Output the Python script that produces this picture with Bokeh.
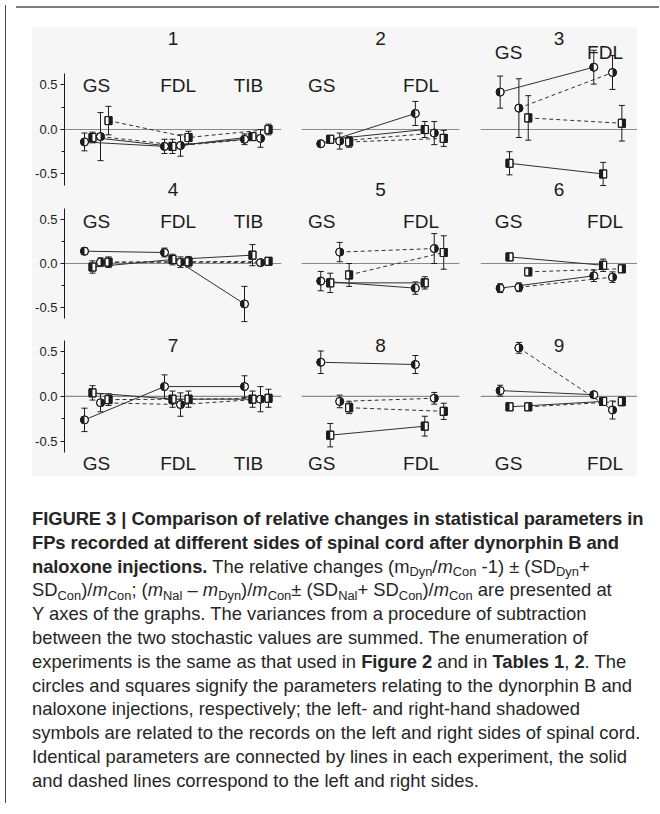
import math
from bokeh.plotting import figure
from bokeh.models import (ColumnDataSource, Whisker, TeeHead, Span, FixedTicker,
                          PrintfTickFormatter, Range1d, Div, Spacer)
from bokeh.layouts import row, column
from bokeh.core.properties import value
from bokeh.embed import file_html
from bokeh.resources import INLINE

# ---------------- data ----------------
SERIES = ["dyn_left", "nal_left", "dyn_right", "nal_right"]
MUSCLES_3 = ["GS", "FDL", "TIB"]
MUSCLES_2 = ["GS", "FDL"]
EXPERIMENTS = ["1", "2", "3", "4", "5", "6", "7", "8", "9"]

exp1_mean = {"dyn_left": [-0.14, -0.19, -0.11], "nal_left": [-0.09, -0.19, -0.08],
             "dyn_right": [-0.08, -0.18, -0.10], "nal_right": [0.10, -0.09, 0.00]}
exp1_sd = {"dyn_left": [0.10, 0.08, 0.06], "nal_left": [0.06, 0.08, 0.04],
           "dyn_right": [0.27, 0.12, 0.10], "nal_right": [0.16, 0.07, 0.06]}

exp2_mean = {"dyn_left": [-0.16, 0.18], "nal_left": [-0.11, 0.00],
             "dyn_right": [-0.13, -0.04], "nal_right": [-0.14, -0.10]}
exp2_sd = {"dyn_left": [0.03, 0.135], "nal_left": [0.03, 0.09],
           "dyn_right": [0.09, 0.13], "nal_right": [0.06, 0.09]}

exp3_mean = {"dyn_left": [0.42, 0.70], "nal_left": [-0.38, -0.50],
             "dyn_right": [0.24, 0.64], "nal_right": [0.13, 0.07]}
exp3_sd = {"dyn_left": [0.18, 0.19], "nal_left": [0.13, 0.13],
           "dyn_right": [0.33, 0.19], "nal_right": [0.25, 0.20]}

exp4_mean = {"dyn_left": [0.14, 0.125, -0.46], "nal_left": [-0.04, 0.045, 0.095],
             "dyn_right": [0.015, 0.015, 0.01], "nal_right": [0.015, 0.02, 0.025]}
exp4_sd = {"dyn_left": [0.04, 0.05, 0.20], "nal_left": [0.07, 0.06, 0.12],
           "dyn_right": [0.05, 0.06, 0.03], "nal_right": [0.06, 0.06, 0.02]}

exp5_mean = {"dyn_left": [-0.20, -0.28], "nal_left": [-0.22, -0.22],
             "dyn_right": [0.13, 0.17], "nal_right": [-0.13, 0.125]}
exp5_sd = {"dyn_left": [0.11, 0.07], "nal_left": [0.11, 0.07],
           "dyn_right": [0.11, 0.17], "nal_right": [0.13, 0.19]}

exp6_mean = {"dyn_left": [-0.28, -0.14], "nal_left": [0.075, -0.02],
             "dyn_right": [-0.27, -0.155], "nal_right": [-0.095, -0.06]}
exp6_sd = {"dyn_left": [0.05, 0.065], "nal_left": [0.03, 0.07],
           "dyn_right": [0.05, 0.06], "nal_right": [0.03, 0.03]}

exp7_mean = {"dyn_left": [-0.26, 0.11, 0.11], "nal_left": [0.04, -0.03, -0.03],
             "dyn_right": [-0.07, -0.09, -0.03], "nal_right": [-0.035, -0.03, -0.02]}
exp7_sd = {"dyn_left": [0.13, 0.13, 0.12], "nal_left": [0.08, 0.09, 0.09],
           "dyn_right": [0.10, 0.13, 0.14], "nal_right": [0.065, 0.09, 0.10]}

exp8_mean = {"dyn_left": [0.38, 0.355], "nal_left": [-0.43, -0.33],
             "dyn_right": [-0.055, -0.02], "nal_right": [-0.125, -0.165]}
exp8_sd = {"dyn_left": [0.125, 0.10], "nal_left": [0.13, 0.11],
           "dyn_right": [0.07, 0.065], "nal_right": [0.065, 0.09]}

exp9_mean = {"dyn_left": [0.065, 0.02], "nal_left": [-0.115, -0.055],
             "dyn_right": [0.54, -0.15], "nal_right": [-0.115, -0.055]}
exp9_sd = {"dyn_left": [0.06, 0.03], "nal_left": [0.02, 0.02],
           "dyn_right": [0.06, 0.10], "nal_right": [0.02, 0.05]}

EXP_GROUPS = [MUSCLES_3, MUSCLES_2, MUSCLES_2] * 3
EXP_MEANS = [exp1_mean, exp2_mean, exp3_mean, exp4_mean, exp5_mean,
             exp6_mean, exp7_mean, exp8_mean, exp9_mean]
EXP_SDS = [exp1_sd, exp2_sd, exp3_sd, exp4_sd, exp5_sd,
           exp6_sd, exp7_sd, exp8_sd, exp9_sd]

Y_TICKS = [-0.5, 0.0, 0.5]
Y_MINOR = [-0.25, 0.25]

# ---------------- styling / layout ----------------
BG = "#f6f6f6"
INK = "#1c1c1c"
LINE = "#303030"
FONT = "Liberation Sans"
OFFSETS = {"dyn_left": -0.15, "nal_left": -0.05, "dyn_right": 0.05, "nal_right": 0.15}
SHADE = {"dyn_left": "left", "nal_left": "left", "dyn_right": "right", "nal_right": "right"}
DASH = {"dyn_left": "solid", "nal_left": "solid", "dyn_right": "4 3", "nal_right": "4 3"}
CIRCLE_D = 8
SQ_W, SQ_H = 7, 8

COLS = [dict(xr=(-0.4, 2.3125), width=259, ml=32, mr=10, nudge=[0.0, 0.02, -0.1]),
        dict(xr=(-0.354, 1.317), width=178, ml=10, mr=10, nudge=[-0.14, -0.09]),
        dict(xr=(-0.36, 1.317), width=168, ml=11, mr=0, nudge=[-0.06, -0.03])]
# the number of each second-row experiment sits just below the first-row axes,
# so it is written at the foot of the first-row canvas (next_title_y)
ROWS = [dict(height=173, yr=(-0.798, 1.146), title_y=1.022, label_y=[0.494, 0.494, 0.865],
             bounds=(-0.63, 0.63), next_title_y=-0.672),
        dict(height=129, yr=(-0.75, 0.716), title_y=None, label_y=[0.477, 0.477, 0.477],
             bounds=(-0.63, 0.63), next_title_y=None),
        dict(height=147, yr=(-0.889, 0.744), title_y=0.567, label_y=[-0.744, -0.744, -0.744],
             bounds=(-0.62, 0.62), next_title_y=None)]


def add_text(p, xs, ys, texts):
    p.text(x=xs, y=ys, text=texts, text_font=value(FONT), text_font_size=value("19px"),
           text_align="center", text_baseline="middle", text_color=INK)


def make_panel(k):
    ri, ci = divmod(k, 3)
    c, r = COLS[ci], ROWS[ri]
    groups, means, sds = EXP_GROUPS[k], EXP_MEANS[k], EXP_SDS[k]
    p = figure(width=c["width"], height=r["height"],
               x_range=Range1d(*c["xr"]), y_range=Range1d(*r["yr"]),
               x_axis_type=None, y_axis_type=("linear" if ci == 0 else None),
               toolbar_location=None, output_backend="svg",
               min_border=0, min_border_left=c["ml"], min_border_right=c["mr"],
               min_border_top=0, min_border_bottom=0,
               background_fill_color=BG, border_fill_color=BG, outline_line_color=None)
    if ci == 0:
        ax = p.yaxis[0]
        ax.ticker = FixedTicker(ticks=Y_TICKS, minor_ticks=Y_MINOR)
        ax.formatter = PrintfTickFormatter(format="%.1f")
        ax.bounds = r["bounds"]
        ax.axis_line_color = INK
        ax.major_tick_line_color = INK
        ax.minor_tick_line_color = INK
        ax.major_tick_out = 4
        ax.major_tick_in = 0
        ax.minor_tick_out = 3
        ax.minor_tick_in = 0
        ax.major_label_standoff = 3
        ax.major_label_text_font = FONT
        ax.major_label_text_font_size = "13px"
        ax.major_label_text_color = INK
        p.ygrid.visible = False

    xr = c["xr"]
    pxu = (c["width"] - c["ml"] - c["mr"]) / (xr[1] - xr[0])

    zero = Span(location=0, dimension="width", line_color="#8a8a8a", line_width=1.2,
                level="underlay")
    p.add_layout(zero)

    xc = (xr[0] + xr[1]) / 2
    if r["title_y"] is not None:
        add_text(p, [xc], [r["title_y"]], [EXPERIMENTS[k]])
    if r["next_title_y"] is not None:
        add_text(p, [xc], [r["next_title_y"]], [EXPERIMENTS[k + 3]])
    add_text(p, [i + c["nudge"][i] for i in range(len(groups))],
             [r["label_y"][ci]] * len(groups), groups)

    for s in SERIES:
        xs = [i + OFFSETS[s] for i in range(len(groups))]
        ys = means[s]
        er = sds[s]
        src = ColumnDataSource(dict(x=xs, upper=[y + e for y, e in zip(ys, er)],
                                    lower=[y - e for y, e in zip(ys, er)]))
        w = Whisker(source=src, base="x", upper="upper", lower="lower",
                    line_color=INK, line_width=1,
                    upper_head=TeeHead(size=6, line_color=INK, line_width=1),
                    lower_head=TeeHead(size=6, line_color=INK, line_width=1))
        p.add_layout(w)

    for s in SERIES:
        xs = [i + OFFSETS[s] for i in range(len(groups))]
        p.line(xs, means[s], line_color=LINE, line_width=1, line_dash=DASH[s])

    for s in SERIES:
        xs = [i + OFFSETS[s] for i in range(len(groups))]
        ys = means[s]
        sign = -1 if SHADE[s] == "left" else 1
        if s.startswith("dyn"):
            p.scatter(xs, ys, marker="circle", size=CIRCLE_D, fill_color="white",
                      line_color=INK, line_width=1)
            if sign < 0:
                a0, a1 = math.pi / 2, 3 * math.pi / 2
            else:
                a0, a1 = -math.pi / 2, math.pi / 2
            p.wedge(xs, ys, radius=CIRCLE_D / 2, radius_units="screen",
                    start_angle=a0, end_angle=a1, direction="anticlock",
                    fill_color=INK, line_color=None)
            p.scatter(xs, ys, marker="circle", size=CIRCLE_D, fill_color=None,
                      line_color=INK, line_width=1)
        else:
            wd = SQ_W / pxu
            p.rect(xs, ys, width=wd, height=SQ_H, height_units="screen",
                   fill_color="white", line_color=INK, line_width=1)
            p.rect([x + sign * wd / 4 for x in xs], ys, width=wd / 2, height=SQ_H,
                   height_units="screen", fill_color=INK, line_color=None)
            p.rect(xs, ys, width=wd, height=SQ_H, height_units="screen",
                   fill_color=None, line_color=INK, line_width=1)
    return p


panels = [make_panel(k) for k in range(9)]
grid_rows = [row(*panels[3 * ri:3 * ri + 3], spacing=0, styles={"background-color": BG})
             for ri in range(3)]
grid = column(*grid_rows, spacing=0, styles={"background-color": BG})
chart_h = sum(r["height"] for r in ROWS)
chart_block = row(Spacer(width=21, height=chart_h), grid, spacing=0)


def sub(t):
    return (f'<span style="font-size:0.7em;line-height:0;position:relative;'
            f'top:0.3em">{t}</span>')


def bold(t):
    return f'<b style="letter-spacing:-0.07px">{t}</b>'


m = "<i>m</i>"
caption_lines = [
    bold("FIGURE 3 | Comparison of relative changes in statistical parameters in"),
    bold("FPs recorded at different sides of spinal cord after dynorphin B and"),
    bold("naloxone injections.") + f" The relative changes (m{sub('Dyn')}/{m}{sub('Con')} -1) &plusmn; (SD{sub('Dyn')}+",
    f"SD{sub('Con')})/{m}{sub('Con')}; ({m}{sub('Nal')} &ndash; {m}{sub('Dyn')})/{m}{sub('Con')}&plusmn; (SD{sub('Nal')}+ SD{sub('Con')})/{m}{sub('Con')} are presented at",
    "Y axes of the graphs. The variances from a procedure of subtraction",
    "between the two stochastic values are summed. The enumeration of",
    "experiments is the same as that used in " + bold("Figure 2") + " and in "
    + bold("Tables 1") + ", " + bold("2") + ". The",
    "circles and squares signify the parameters relating to the dynorphin B and",
    "naloxone injections, respectively; the left- and right-hand shadowed",
    "symbols are related to the records on the left and right sides of spinal cord.",
    "Identical parameters are connected by lines in each experiment, the solid",
    "and dashed lines correspond to the left and right sides.",
]
caption_html = ('<div style="font-family:\'Liberation Sans\',Arial,sans-serif;font-size:18.4px;'
                'line-height:23.8px;color:#262626;white-space:nowrap;">'
                + "<br>".join(caption_lines) + "</div>")
caption = Div(text=caption_html, width=627, height=292)

top_line = Div(text="", width=643, height=2, styles={"background-color": "#7c7c7c"})
left_line = Div(text="", width=1, height=798, styles={"background-color": "#4a4a4a"})

content = column(Spacer(width=643, height=1), top_line, Spacer(width=643, height=14),
                 chart_block, Spacer(width=643, height=26),
                 row(Spacer(width=16, height=292), caption, spacing=0), spacing=0)
layout = row(left_line, content, spacing=0)

open("out.html", "w").write(file_html(layout, INLINE))
